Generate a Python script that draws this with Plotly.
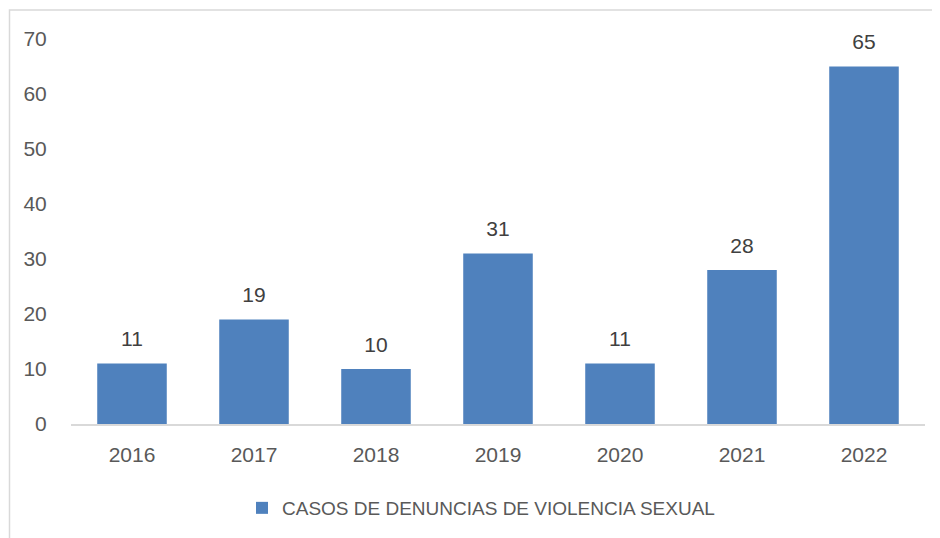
import plotly.graph_objects as go

years = ["2016", "2017", "2018", "2019", "2020", "2021", "2022"]
cases = [11, 19, 10, 31, 11, 28, 65]
series_name = "CASOS DE DENUNCIAS DE VIOLENCIA SEXUAL"
y_ticks = [0, 10, 20, 30, 40, 50, 60, 70]

# page body has an 8px margin; layout computed in screenshot pixels
OFF = 8
W, H = 940, 538
plot_l, plot_r, plot_t, plot_b = 71, 925, 39, 424
ml, mt = plot_l - OFF, plot_t - OFF
mr = W + OFF - plot_r
mb = H + OFF - plot_b
pw, ph = plot_r - plot_l, plot_b - plot_t

fig = go.Figure()
fig.add_trace(go.Bar(
    x=years, y=cases, name=series_name,
    marker=dict(color="#4f81bd", line=dict(width=0)),
))
fig.add_trace(go.Scatter(
    x=years, y=cases, mode="markers+text", showlegend=False, hoverinfo="skip",
    text=[str(v) for v in cases], textposition="top center", cliponaxis=False,
    marker=dict(size=18, color="rgba(0,0,0,0)"),
    textfont=dict(size=21, color="#404040", family="Liberation Sans"),
))

fig.add_shape(type="rect", xref="paper", yref="paper",
              x0=(9.5 - plot_l) / pw, x1=(W + 30 - plot_l) / pw,
              y0=-(H + 30 - plot_b) / ph, y1=1 + (plot_t - 10) / ph,
              line=dict(color="#d9d9d9", width=1.5), fillcolor="rgba(0,0,0,0)", layer="below")

fig.update_layout(
    width=W, height=H,
    margin=dict(l=ml, r=mr, t=mt, b=mb, autoexpand=False),
    paper_bgcolor="white", plot_bgcolor="white",
    font=dict(family="Liberation Sans", size=21, color="#595959"),
    showlegend=True,
    bargap=0.43,
    legend=dict(orientation="h", x=0.5 - 17 / pw, xanchor="center", y=(plot_b - 508) / ph,
                yanchor="middle", font=dict(size=19, color="#595959")),
    xaxis=dict(type="category", showline=True, linecolor="#d9d9d9", linewidth=1.5,
               ticks="outside", ticklen=11, tickcolor="rgba(0,0,0,0)", showgrid=False),
    yaxis=dict(range=[0, 70], tickvals=y_ticks, showgrid=False, zeroline=False,
               showline=False, ticks="outside", ticklen=19, tickcolor="rgba(0,0,0,0)"),
)

fig.write_html("out.html")
